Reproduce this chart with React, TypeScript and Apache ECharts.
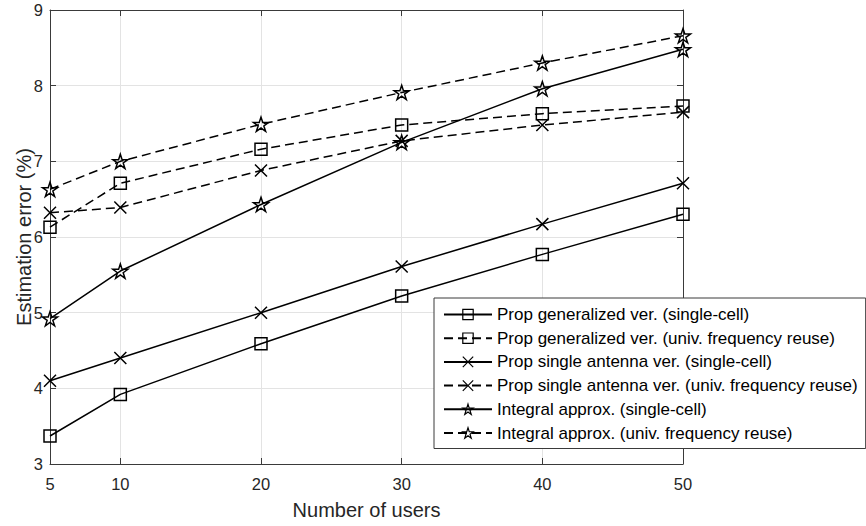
import React, { useEffect, useRef } from "react";
import * as echarts from "echarts";

const users = [5, 10, 20, 30, 40, 50];
const propGenSingle = [3.37, 3.92, 4.59, 5.22, 5.77, 6.3];
const propGenReuse = [6.13, 6.71, 7.16, 7.48, 7.63, 7.73];
const propAntSingle = [4.1, 4.4, 5.0, 5.61, 6.17, 6.71];
const propAntReuse = [6.32, 6.39, 6.88, 7.27, 7.48, 7.65];
const integralSingle = [4.92, 5.55, 6.43, 7.25, 7.96, 8.48];
const integralReuse = [6.63, 7.0, 7.49, 7.91, 8.3, 8.66];

const seriesNames = [
  "Prop generalized ver. (single-cell)",
  "Prop generalized ver. (univ. frequency reuse)",
  "Prop single antenna ver. (single-cell)",
  "Prop single antenna ver. (univ. frequency reuse)",
  "Integral approx. (single-cell)",
  "Integral approx. (univ. frequency reuse)",
];

const xTitle = "Number of users";
const yTitle = "Estimation error (%)";

const FONT = "'Liberation Sans', Arial, Helvetica, sans-serif";
const TEXT = "#262626";
const AXIS = "#3a3a3a";
const GRID = "#e3e3e3";

const CROSS = "path://M0,0L10,10M10,0L0,10";
const STAR =
  "path://M50,0L61.23,34.55L97.55,34.55L68.17,55.9L79.39,90.45L50,69.1L20.61,90.45L31.83,55.9L2.45,34.55L38.77,34.55Z";

export default function App() {
  const ref = useRef<HTMLDivElement>(null);

  useEffect(() => {
    if (!ref.current) return;
    const chart = echarts.init(ref.current, undefined, { renderer: "svg" });

    const mk = (
      name: string,
      values: number[],
      symbol: string,
      size: number,
      dashed: boolean
    ) => ({
      name,
      type: "line",
      data: users.map((u, i) => [u, values[i]]),
      symbol,
      symbolSize: size,
      symbolKeepAspect: true,
      showAllSymbol: true,
      clip: false,
      color: "#000",
      lineStyle: {
        color: "#000",
        width: 1.5,
        type: dashed ? [9, 5] : "solid",
      },
      itemStyle: {
        color: "rgba(255,255,255,0)",
        borderColor: "#000",
        borderWidth: 1.5,
      },
      emphasis: { disabled: true },
    });

    const axisCommon = {
      type: "value",
      axisLine: { show: true, lineStyle: { color: AXIS, width: 1 } },
      axisTick: { show: true, inside: true, length: 6, lineStyle: { color: AXIS } },
    };

    chart.setOption({
      animation: false,
      backgroundColor: "#fff",
      textStyle: { fontFamily: FONT },
      grid: {
        left: 50,
        right: 183,
        top: 10,
        bottom: 62,
        containLabel: false,
        outerBoundsMode: "none",
      },
      xAxis: [
        {
          ...axisCommon,
          min: 5,
          max: 50,
          splitNumber: 5,
          position: "bottom",
          name: xTitle,
          nameLocation: "middle",
          nameGap: 36,
          nameMoveOverlap: false,
          nameTextStyle: { color: TEXT, fontSize: 20, fontFamily: FONT },
          axisLabel: { color: TEXT, fontSize: 16.5, margin: 11, fontFamily: FONT },
          splitLine: { show: true, lineStyle: { color: GRID, width: 1 } },
        },
        {
          ...axisCommon,
          min: 5,
          max: 50,
          splitNumber: 5,
          position: "top",
          axisLabel: { show: false },
          splitLine: { show: false },
        },
      ],
      yAxis: [
        {
          ...axisCommon,
          min: 3,
          max: 9,
          interval: 1,
          position: "left",
          name: yTitle,
          nameLocation: "middle",
          nameGap: 16,
          nameMoveOverlap: false,
          nameTextStyle: { color: TEXT, fontSize: 20, fontFamily: FONT },
          axisLabel: { color: TEXT, fontSize: 16.5, margin: 7, fontFamily: FONT },
          splitLine: { show: true, lineStyle: { color: GRID, width: 1 } },
        },
        {
          ...axisCommon,
          min: 3,
          max: 9,
          interval: 1,
          position: "right",
          axisLabel: { show: false },
          splitLine: { show: false },
        },
      ],
      legend: {
        orient: "vertical",
        left: 434,
        top: 298,
        data: seriesNames,
        itemWidth: 48,
        itemHeight: 13,
        itemGap: 6.7,
        padding: [8, 8, 7, 9],
        backgroundColor: "#fff",
        borderColor: AXIS,
        borderWidth: 1,
        borderRadius: 0,
        selectedMode: false,
        itemStyle: {
          color: "rgba(255,255,255,0)",
          borderColor: "#000",
          borderWidth: 1.2,
        },
        textStyle: { color: "#000", fontSize: 17, lineHeight: 17, fontFamily: FONT },
      },
      series: [
        mk(seriesNames[0], propGenSingle, "rect", 12, false),
        mk(seriesNames[1], propGenReuse, "rect", 12, true),
        mk(seriesNames[2], propAntSingle, CROSS, 12, false),
        mk(seriesNames[3], propAntReuse, CROSS, 12, true),
        mk(seriesNames[4], integralSingle, STAR, 15, false),
        mk(seriesNames[5], integralReuse, STAR, 15, true),
      ],
    });

    return () => chart.dispose();
  }, []);

  return (
    <div
      ref={ref}
      style={{ position: "fixed", left: 0, top: 0, width: 866, height: 526 }}
    />
  );
}
